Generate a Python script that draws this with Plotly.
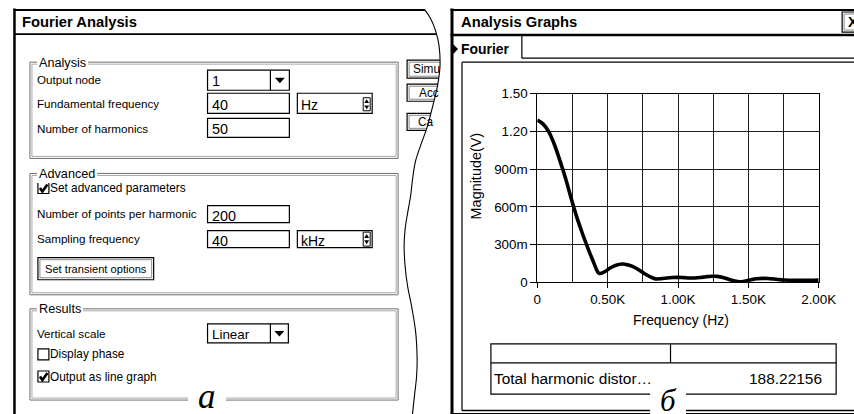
import plotly.graph_objects as go

# ---- Fourier analysis result (fundamental 40 Hz, 50 harmonics) ----
fundamental_hz = 40
n_harmonics = 50
harmonic_freq_hz = [fundamental_hz * k for k in range(n_harmonics + 1)]
magnitude_v = [
    1.29, 1.26, 1.20, 1.10, 0.97, 0.83, 0.67, 0.52, 0.39, 0.27,
    0.16, 0.07, 0.085, 0.115, 0.135, 0.145, 0.14, 0.125, 0.10, 0.07,
    0.045, 0.027, 0.028, 0.034, 0.038, 0.039, 0.037, 0.034, 0.034, 0.038,
    0.044, 0.048, 0.047, 0.038, 0.024, 0.011, 0.004, 0.010, 0.020, 0.028,
    0.031, 0.030, 0.026, 0.021, 0.018, 0.016, 0.015, 0.015, 0.015, 0.016,
    0.017,
]

x_tick_vals = [0, 500, 1000, 1500, 2000]
x_tick_text = ["0", "0.50K", "1.00K", "1.50K", "2.00K"]
y_tick_vals = [0, 0.3, 0.6, 0.9, 1.2, 1.5]
y_tick_text = ["0", "300m", "600m", "900m", "1.20", "1.50"]

thd_label = "Total harmonic distor…"
thd_value = "188.22156"

# dialog field values
output_node = "1"
fundamental_text = "40"
fundamental_unit = "Hz"
harmonics_text = "50"
points_per_harmonic = "200"
sampling_text = "40"
sampling_unit = "kHz"
vertical_scale = "Linear"

# layout is designed on an 854x414 sheet; sheet -> figure pixel mapping
SX, SY = 0.977, 0.962
BX, BY = 2.5, 6.5
W, H = 874, 424
FS = 1 / 0.97  # font scale on the figure
SANS = "Liberation Sans, Arial, sans-serif"
SERIF = "Liberation Serif, Times New Roman, serif"
LBL = 11.3  # dialog label size


def X(px):
    return (px - BX) / SX / W


def Y(py):
    return 1 - (py - BY) / SY / H


shapes = []
annotations = []


def seg(x0, y0, x1, y1, w=1.0, c="black"):
    shapes.append(dict(type="line", xref="paper", yref="paper",
                       x0=X(x0), y0=Y(y0), x1=X(x1), y1=Y(y1),
                       line=dict(color=c, width=w), layer="above"))


def box(x0, y0, x1, y1, w=1.0, c="black", fill="rgba(0,0,0,0)"):
    shapes.append(dict(type="rect", xref="paper", yref="paper",
                       x0=X(x0), y0=Y(y0), x1=X(x1), y1=Y(y1),
                       line=dict(color=c, width=w), fillcolor=fill, layer="above"))


def poly(pts, fill="black", w=0, c="black", closed=True):
    p = "M " + " L ".join(f"{X(x):.5f},{Y(y):.5f}" for x, y in pts)
    if closed:
        p += " Z"
    shapes.append(dict(type="path", xref="paper", yref="paper", path=p,
                       fillcolor=fill, line=dict(color=c, width=w), layer="above"))


def smooth(pts, w=1.0, c="black"):
    # Catmull-Rom spline through pts, emitted as cubic Bezier segments
    P = [(X(x), Y(y)) for x, y in pts]
    d = f"M {P[0][0]:.5f},{P[0][1]:.5f}"
    for i in range(len(P) - 1):
        p0 = P[i - 1] if i > 0 else P[i]
        p1, p2 = P[i], P[i + 1]
        p3 = P[i + 2] if i + 2 < len(P) else P[i + 1]
        c1 = (p1[0] + (p2[0] - p0[0]) / 6, p1[1] + (p2[1] - p0[1]) / 6)
        c2 = (p2[0] - (p3[0] - p1[0]) / 6, p2[1] - (p3[1] - p1[1]) / 6)
        d += f" C {c1[0]:.5f},{c1[1]:.5f} {c2[0]:.5f},{c2[1]:.5f} {p2[0]:.5f},{p2[1]:.5f}"
    shapes.append(dict(type="path", xref="paper", yref="paper", path=d,
                       fillcolor="rgba(0,0,0,0)", line=dict(color=c, width=w),
                       layer="above"))


def label(x, y, s, size=LBL, family=SANS, xanchor="left", bg=None, pad=0, angle=0):
    a = dict(x=X(x), y=Y(y), xref="paper", yref="paper", text=s, showarrow=False,
             xanchor=xanchor, yanchor="middle", borderwidth=0, borderpad=pad,
             textangle=angle, font=dict(size=size * FS, family=family, color="black"))
    if bg:
        a["bgcolor"] = bg
    annotations.append(a)


def group(x0, y0, x1, y1, title):
    box(x0, y0, x1, y1, 1, "#6e6e6e")
    box(x0 + 2, y0 + 2, x1 - 2, y1 - 2, 1, "#a8a8a8")
    label(x0 + 7, y0 + 0.5, title, size=12.3, bg="white", pad=2)


def dropdown(x0, y0, x1, y1, div, value, size=14):
    box(x0, y0, x1, y1, 1.2)
    seg(div, y0, div, y1, 1.2)
    cx, cy = (div + x1) / 2, (y0 + y1) / 2
    poly([(cx - 5, cy - 2.5), (cx + 5, cy - 2.5), (cx, cy + 3)])
    label(x0 + 4, cy + 1, value, size=size)


def textbox(x0, y0, x1, y1, value, size=14):
    box(x0, y0, x1, y1, 1.2)
    label(x0 + 4, (y0 + y1) / 2 + 1.5, value, size=size)


def spinner(cx, y0, y1):
    box(cx - 3.5, y0, cx + 3.5, y1, 1)
    m = (y0 + y1) / 2
    poly([(cx - 2.5, m - 1.2), (cx + 2.5, m - 1.2), (cx, m - 5)])
    poly([(cx - 2.5, m + 1.2), (cx + 2.5, m + 1.2), (cx, m + 5)])


def checkbox(x, y, checked):
    box(x, y, x + 11, y + 11, 1.2)
    if checked:
        poly([(x + 2, y + 5.5), (x + 4.5, y + 9), (x + 9.5, y + 2)],
             fill="rgba(0,0,0,0)", w=2.6, closed=False)


def button3d(x0, y0, x1, y1):
    box(x0, y0, x1, y1, 1.2, "black")
    box(x0 + 2, y0 + 2, x1 - 2, y1 - 2, 1, "#8a8a8a")


# ================= left dialog: Fourier Analysis =================
seg(13, 8, 13, 416, 2.5)
seg(12, 9.5, 446, 9.5, 1.8)
seg(13, 33.5, 446, 33.5, 1.8)
label(21, 21.5, "<b>Fourier Analysis</b>", size=14.3)

# side buttons (cut by the torn edge)
for (y0, y1) in [(59.5, 77.5), (83.5, 100.5), (112.5, 129.5)]:
    button3d(406.5, y0, 447, y1)

group(28.5, 61.5, 397.5, 157.5, "Analysis")
label(36, 79, "Output node")
dropdown(206.5, 69.5, 288.5, 89.5, 269.5, output_node)
label(36, 103, "Fundamental frequency")
textbox(206.5, 92.5, 288.5, 112.5, fundamental_text)
textbox(296.5, 92.5, 371.5, 112.5, fundamental_unit, size=13.5)
spinner(366, 97, 110)
label(36, 127.5, "Number of harmonics")
textbox(206.5, 117.5, 288.5, 136.5, harmonics_text)

group(28.5, 172.5, 397.5, 293.5, "Advanced")
checkbox(36.5, 181.5, True)
label(49, 187, "Set advanced parameters", size=11.5)
label(36, 212, "Number of points per harmonic")
textbox(206.5, 204.5, 288.5, 221.5, points_per_harmonic)
label(36, 237, "Sampling frequency")
textbox(206.5, 229.5, 288.5, 246.5, sampling_text)
textbox(296.5, 229.5, 371.5, 246.5, sampling_unit, size=13.5)
spinner(366, 231, 245)
button3d(36.5, 256.5, 152.5, 278.5)
label(94.5, 267.5, "Set transient options", size=10.8, xanchor="center")

group(28.5, 307.5, 397.5, 398.5, "Results")
label(36, 332, "Vertical scale")
dropdown(206.5, 322.5, 287.5, 341.5, 269.5, vertical_scale, size=13)
checkbox(36.5, 347.5, False)
label(49, 353, "Display phase", size=11.5)
checkbox(36.5, 369.5, True)
label(49, 375, "Output as line graph", size=11.5)

# torn edge between the two windows
torn = [(424, 9), (430, 18), (435, 30), (438.5, 45), (439.5, 65), (437, 85),
        (433, 102), (427, 125), (421, 142), (415, 160), (412, 178), (410, 195),
        (407, 212), (404.5, 228), (403.5, 245), (404.5, 265), (407, 285),
        (411, 305), (415, 330), (416.5, 355), (416, 375), (414, 393), (411.5, 416)]
poly([(424, 0)] + torn + [(449, 416), (449, 0)], fill="white")
smooth(torn, 1.1)

label(412, 68.5, "Simu", size=11.5)
label(418, 92, "Acc", size=11.5)
label(417, 121, "Ca", size=11.5)

# panel letter a
box(187, 389, 225, 408, 0, "white", "white")
label(206, 395, "<i>a</i>", size=34, family=SERIF, xanchor="center")

# ================= right window: Analysis Graphs =================
seg(451.5, 8, 451.5, 416, 3)
seg(450, 9.5, 860, 9.5, 1.8)
seg(450, 34.5, 860, 34.5, 2.5)
label(461, 21.5, "<b>Analysis Graphs</b>", size=14.3)
button3d(842.5, 11.5, 862, 31.5)
label(853, 21.5, "<b>X</b>", size=14, xanchor="center")

poly([(452.5, 43.5), (457.5, 48.5), (452.5, 53.5)])
label(461, 48, "<b>Fourier</b>", size=13.5)
seg(521.5, 35, 521.5, 57.5, 1.2)
seg(521.5, 57.5, 860, 57.5, 1.2)
seg(461.5, 61.5, 860, 61.5, 1.2)
seg(461.5, 61.5, 461.5, 409, 1.2)
seg(461.5, 409, 860, 409, 1.5)
seg(450, 412.5, 860, 412.5, 2.2)

# results table
box(490.5, 342.5, 836.5, 392.5, 1.2)
seg(490.5, 361.5, 836.5, 361.5, 1.2)
seg(670.5, 342.5, 670.5, 361.5, 1.2)
label(494, 376.5, thd_label, size=15)
label(822, 376.5, thd_value, size=15, xanchor="right")

label(476, 175, "Magnitude(V)", size=14, angle=-90, xanchor="center")
label(681, 319, "Frequency (Hz)", size=13.5, xanchor="center")

# panel letter б
box(650, 386, 686, 416, 0, "white", "white")
label(668, 399, "<i>б</i>", size=30, family=SERIF, xanchor="center")

# ================= spectrum plot =================
fig = go.Figure()
fig.add_trace(go.Scatter(
    x=harmonic_freq_hz, y=magnitude_v, mode="lines",
    line=dict(color="black", width=3.6, shape="spline", smoothing=1.0),
    showlegend=False, hoverinfo="skip",
))

grid_col = "#1e1e1e"
fig.update_layout(
    width=W, height=H, autosize=False,
    margin=dict(l=0, r=0, t=0, b=0, pad=0),
    paper_bgcolor="white", plot_bgcolor="rgba(0,0,0,0)",
    font=dict(family=SANS, color="black"),
    xaxis=dict(
        domain=[X(537), X(819)], range=[0, 2000],
        tickvals=x_tick_vals, ticktext=x_tick_text,
        ticks="outside", ticklen=5, tickcolor="black", tickwidth=1,
        tickfont=dict(size=13 * FS, family=SANS, color="black"),
        showgrid=True, gridcolor=grid_col, gridwidth=1,
        minor=dict(dtick=250, tick0=0, showgrid=True, gridcolor=grid_col,
                   gridwidth=1, ticks=""),
        showline=True, linecolor="black", linewidth=1, mirror=True,
        zeroline=False, fixedrange=True,
    ),
    yaxis=dict(
        domain=[Y(281), Y(93)], range=[0, 1.5],
        tickvals=y_tick_vals, ticktext=y_tick_text,
        ticks="outside", ticklen=6, tickcolor="black", tickwidth=1,
        tickfont=dict(size=13 * FS, family=SANS, color="black"),
        showgrid=True, gridcolor=grid_col, gridwidth=1,
        showline=True, linecolor="black", linewidth=1, mirror=True,
        zeroline=False, fixedrange=True,
    ),
    shapes=shapes,
    annotations=annotations,
)

fig.write_html("out.html", config=dict(displayModeBar=False))
